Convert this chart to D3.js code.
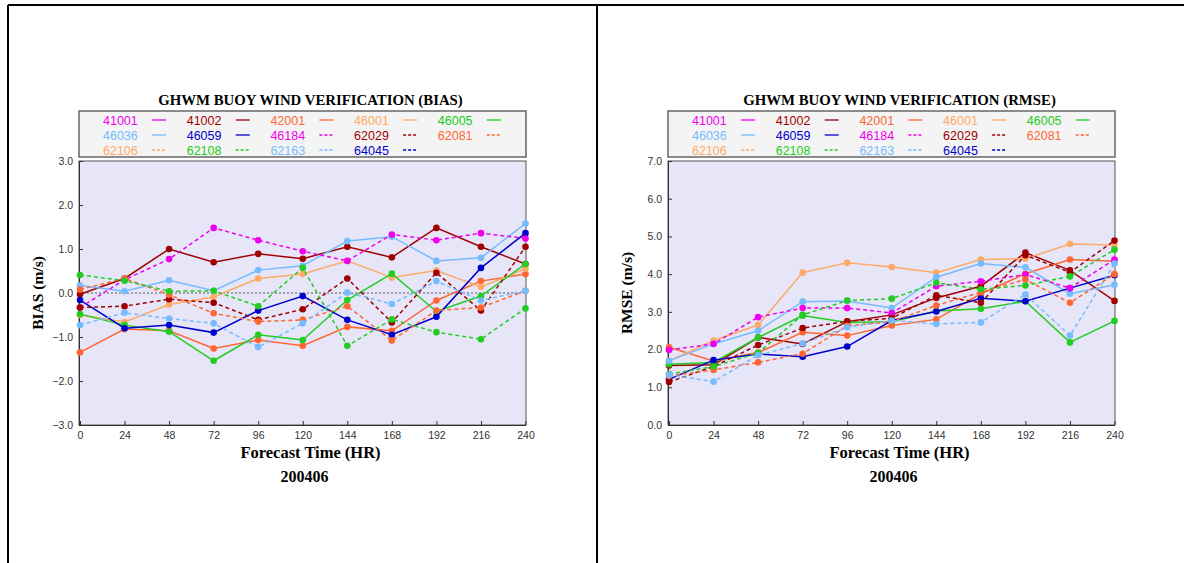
<!DOCTYPE html>
<html>
<head>
<meta charset="utf-8">
<script src="https://cdn.jsdelivr.net/npm/d3@7"></script>
<style>
  body { margin: 0; background: #ffffff; }
</style>
</head>
<body>
<div id="canvas"></div>
<script>
"use strict"

/* forecast hours and buoy ids */
let hours = [0, 24, 48, 72, 96, 120, 144, 168, 192, 216, 240];
let stations = ["41001", "41002", "42001", "46001", "46005",
                "46036", "46059", "46184", "62029", "62081",
                "62106", "62108", "62163", "64045"];
let biasTicks = [-3, -2, -1, 0, 1, 2, 3];
let rmseTicks = [0, 1, 2, 3, 4, 5, 6, 7];

/* BIAS values (m/s), empty = no data that month */
let bias41001 = [];
let bias41002 = [-0.03, 0.33, 1.0, 0.70, 0.89, 0.78, 1.05, 0.81, 1.48, 1.05, 0.66];
let bias42001 = [-1.35, -0.82, -0.86, -1.26, -1.07, -1.20, -0.77, -0.86, -0.17, 0.27, 0.43];
let bias46001 = [-0.50, -0.66, -0.26, -0.09, 0.33, 0.43, 0.73, 0.35, 0.51, 0.14, 0.55];
let bias46005 = [-0.48, -0.73, -0.88, -1.54, -0.95, -1.07, -0.16, 0.44, -0.42, -0.07, 0.66];
let bias46036 = [0.17, 0.04, 0.29, 0.05, 0.52, 0.62, 1.18, 1.28, 0.73, 0.80, 1.58];
let bias46059 = [-0.16, -0.80, -0.73, -0.90, -0.40, -0.07, -0.61, -0.95, -0.54, 0.57, 1.36];
let bias46184 = [-0.33, 0.30, 0.77, 1.48, 1.20, 0.95, 0.73, 1.33, 1.20, 1.36, 1.24];
let bias62029 = [-0.33, -0.30, -0.14, -0.22, -0.61, -0.37, 0.33, -0.67, 0.46, -0.40, 1.05];
let bias62081 = [0.08, 0.33, -0.04, -0.46, -0.65, -0.61, -0.30, -1.08, -0.40, -0.33, 0.05];
let bias62106 = [];
let bias62108 = [0.41, 0.28, 0.04, 0.05, -0.30, 0.57, -1.20, -0.60, -0.89, -1.05, -0.35];
let bias62163 = [-0.73, -0.45, -0.58, -0.69, -1.23, -0.69, 0.01, -0.25, 0.27, -0.17, 0.05];
let bias64045 = [];

/* RMSE values (m/s) */
let rmse41001 = [];
let rmse41002 = [1.58, 1.60, 2.32, 2.15, 2.74, 2.92, 3.37, 3.68, 4.57, 4.10, 3.29];
let rmse42001 = [2.06, 1.70, 1.92, 2.46, 2.37, 2.64, 2.80, 3.48, 4.01, 4.39, 4.34];
let rmse46001 = [1.70, 2.24, 2.65, 4.04, 4.30, 4.19, 4.04, 4.39, 4.41, 4.80, 4.77];
let rmse46005 = [1.61, 1.66, 2.32, 2.90, 2.72, 2.74, 3.02, 3.08, 3.28, 2.19, 2.76];
let rmse46036 = [1.70, 2.15, 2.50, 3.27, 3.29, 3.10, 3.92, 4.28, 4.18, 3.48, 3.72];
let rmse46059 = [1.21, 1.72, 1.88, 1.81, 2.08, 2.77, 3.01, 3.36, 3.28, 3.63, 3.97];
let rmse46184 = [1.99, 2.15, 2.86, 3.10, 3.10, 2.97, 3.68, 3.81, 3.99, 3.63, 4.39];
let rmse62029 = [1.14, 1.55, 2.12, 2.57, 2.75, 2.83, 3.44, 3.24, 4.50, 4.05, 4.89];
let rmse62081 = [1.30, 1.46, 1.66, 1.89, 2.63, 2.74, 3.17, 3.52, 3.86, 3.24, 4.00];
let rmse62106 = [];
let rmse62108 = [1.35, 1.55, 1.91, 2.92, 3.30, 3.35, 3.77, 3.60, 3.70, 3.94, 4.65];
let rmse62163 = [1.33, 1.15, 1.85, 2.16, 2.59, 2.77, 2.68, 2.72, 3.46, 2.37, 4.28];
let rmse64045 = [];

let biasSeries = [bias41001, bias41002, bias42001, bias46001, bias46005, bias46036, bias46059,
                  bias46184, bias62029, bias62081, bias62106, bias62108, bias62163, bias64045];
let rmseSeries = [rmse41001, rmse41002, rmse42001, rmse46001, rmse46005, rmse46036, rmse46059,
                  rmse46184, rmse62029, rmse62081, rmse62106, rmse62108, rmse62163, rmse64045];

/* 7 colours, solid for the first round, dashed for the second */
let palette = ["#ee00ee", "#a00000", "#ff6633", "#ffaa66", "#22cc22", "#77bbff", "#0000cc"];

let drawing = d3.select("#canvas")
    .append("svg")
    .attr("width", 1184)
    .attr("height", 563);

/* page frame lines */
drawing.append("line")
    .attr("x1", 8).attr("y1", 5).attr("x2", 1184).attr("y2", 5)
    .attr("stroke", "black").attr("stroke-width", 2);
drawing.append("line")
    .attr("x1", 8).attr("y1", 5).attr("x2", 8).attr("y2", 563)
    .attr("stroke", "black").attr("stroke-width", 2);
drawing.append("line")
    .attr("x1", 597).attr("y1", 5).attr("x2", 597).attr("y2", 563)
    .attr("stroke", "black").attr("stroke-width", 2);

function drawPanel(left, title, yLabel, yDomain, yTicks, series, zeroLine) {
    let right = left + 447;
    let top = 161;
    let bottom = 425;
    let mid = (left + right) / 2;

    let x = d3.scaleLinear().domain([0, 240]).range([left + 1, right - 0.5]);
    let y = d3.scaleLinear().domain(yDomain).range([bottom, top]);

    let g = drawing.append("g");

    /* title */
    g.append("text")
        .attr("x", mid + 8).attr("y", 105)
        .attr("text-anchor", "middle")
        .attr("font-family", "Liberation Serif, serif")
        .attr("font-weight", "bold")
        .attr("font-size", 14.8)
        .text(title);

    /* legend box */
    g.append("rect")
        .attr("x", left).attr("y", 111)
        .attr("width", right - left).attr("height", 46)
        .attr("fill", "#f4f4f4")
        .attr("stroke", "#666").attr("stroke-width", 1.5);

    stations.forEach(function (name, i) {
        let col = i % 5;
        let row = Math.floor(i / 5);
        let tx = left + 24 + col * 83.7;
        let ty = 124.5 + row * 15;
        let color = palette[i % 7];
        g.append("text")
            .attr("x", tx).attr("y", ty)
            .attr("font-family", "Liberation Sans, Arial, sans-serif")
            .attr("font-size", 12.5)
            .attr("fill", color)
            .text(name);
        g.append("line")
            .attr("x1", tx + 49).attr("x2", tx + 63)
            .attr("y1", ty - 4.5).attr("y2", ty - 4.5)
            .attr("stroke", color).attr("stroke-width", 1.3)
            .attr("stroke-dasharray", i >= 7 ? "3,2" : null);
    });

    /* plot area */
    g.append("rect")
        .attr("x", left).attr("y", top)
        .attr("width", right - left).attr("height", bottom - top)
        .attr("fill", "#e6e6f8")
        .attr("stroke", "#555").attr("stroke-width", 1);

    /* axes */
    let yAxis = d3.axisLeft(y).tickValues(yTicks).tickFormat(d3.format(".1f"))
        .tickSizeInner(-4).tickSizeOuter(0).tickPadding(6);
    let yg = g.append("g").attr("transform", "translate(" + left + ",0)").call(yAxis);

    let xAxis = d3.axisBottom(x).tickValues(hours)
        .tickSizeInner(-4).tickSizeOuter(0).tickPadding(7);
    let xg = g.append("g").attr("transform", "translate(0," + bottom + ")").call(xAxis);

    [yg, xg].forEach(function (a) {
        a.select(".domain").attr("stroke", "#333");
        a.selectAll(".tick line").attr("stroke", "#333");
        a.selectAll(".tick text")
            .attr("font-family", "Liberation Sans, Arial, sans-serif")
            .attr("font-size", 10.5)
            .attr("fill", "#333");
    });

    if (zeroLine) {
        g.append("line")
            .attr("x1", left).attr("x2", right)
            .attr("y1", y(0)).attr("y2", y(0))
            .attr("stroke", "#555").attr("stroke-width", 1)
            .attr("stroke-dasharray", "2,2");
    }

    /* axis labels */
    g.append("text")
        .attr("transform", "translate(" + (left - 36) + "," + ((top + bottom) / 2) + ") rotate(-90)")
        .attr("text-anchor", "middle")
        .attr("font-family", "Liberation Serif, serif")
        .attr("font-weight", "bold")
        .attr("font-size", 15.5)
        .text(yLabel);

    g.append("text")
        .attr("x", mid + 8).attr("y", 458)
        .attr("text-anchor", "middle")
        .attr("font-family", "Liberation Serif, serif")
        .attr("font-weight", "bold")
        .attr("font-size", 16.5)
        .text("Forecast Time (HR)");

    g.append("text")
        .attr("x", mid + 2).attr("y", 482)
        .attr("text-anchor", "middle")
        .attr("font-family", "Liberation Serif, serif")
        .attr("font-weight", "bold")
        .attr("font-size", 16)
        .text("200406");

    /* lines and markers */
    let line = d3.line()
        .x(function (d, i) { return x(hours[i]); })
        .y(function (d) { return y(d); });

    series.forEach(function (values, i) {
        if (values.length === 0) return;
        let color = palette[i % 7];
        g.append("path")
            .attr("d", line(values))
            .attr("fill", "none")
            .attr("stroke", color)
            .attr("stroke-width", 1.5)
            .attr("stroke-dasharray", i >= 7 ? "4,3" : null);
        g.selectAll(null)
            .data(values)
            .enter()
            .append("circle")
            .attr("cx", function (d, j) { return x(hours[j]); })
            .attr("cy", function (d) { return y(d); })
            .attr("r", 3.3)
            .attr("fill", color);
    });
}

drawPanel(79, "GHWM BUOY WIND VERIFICATION (BIAS)", "BIAS (m/s)", [-3, 3], biasTicks, biasSeries, true);
drawPanel(668, "GHWM BUOY WIND VERIFICATION (RMSE)", "RMSE (m/s)", [0, 7], rmseTicks, rmseSeries, false);
</script>
</body>
</html>
